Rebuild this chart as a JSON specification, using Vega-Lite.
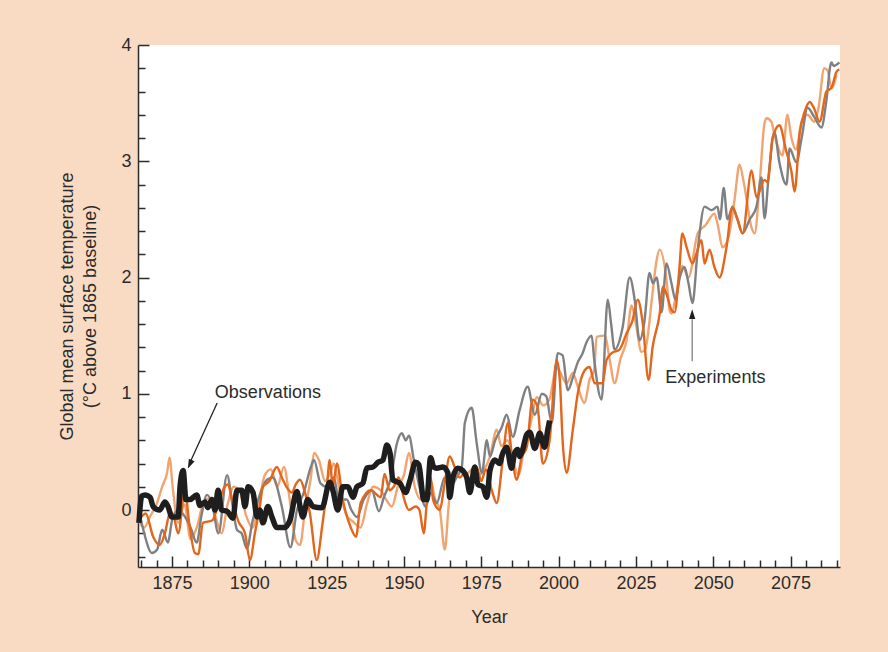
{
  "$schema": "https://vega.github.io/schema/vega-lite/v6.json",
  "width": 702,
  "height": 522,
  "autosize": {"type": "none"},
  "padding": {"left": 138, "top": 45, "right": 48, "bottom": 85},
  "background": "#F9DBC3",
  "config": {
    "view": {"fill": "white", "stroke": null},
    "font": "Liberation Sans",
    "axis": {
      "grid": false,
      "domainColor": "#2B2B2B",
      "domainWidth": 1.5,
      "tickColor": "#2B2B2B",
      "tickWidth": 1.5,
      "labelColor": "#2B2B2B",
      "labelFontSize": 18,
      "titleColor": "#2B2B2B",
      "titleFontSize": 18,
      "titleFontWeight": "normal"
    }
  },
  "datasets": {
    "obs": [
      {"year": 1864.3, "temp": -0.11}, {"year": 1865.2, "temp": 0.12}, {"year": 1866.3, "temp": 0.13}, {"year": 1867.9, "temp": 0.11},
      {"year": 1868.9, "temp": 0.03}, {"year": 1871, "temp": 0.0}, {"year": 1872.7, "temp": 0.07}, {"year": 1873.7, "temp": 0.03},
      {"year": 1875, "temp": -0.06}, {"year": 1877, "temp": -0.06}, {"year": 1877.6, "temp": 0.2}, {"year": 1878.6, "temp": 0.34},
      {"year": 1879.5, "temp": 0.09}, {"year": 1880.8, "temp": 0.09}, {"year": 1883, "temp": 0.13}, {"year": 1884, "temp": 0.04},
      {"year": 1885.7, "temp": 0.07}, {"year": 1886.6, "temp": 0.02}, {"year": 1887.9, "temp": 0.09}, {"year": 1888.9, "temp": 0.0},
      {"year": 1889.9, "temp": 0.17}, {"year": 1891, "temp": 0.0}, {"year": 1892.8, "temp": -0.01}, {"year": 1894.7, "temp": -0.07},
      {"year": 1896, "temp": 0.17}, {"year": 1897.6, "temp": 0.17}, {"year": 1898.6, "temp": 0.03}, {"year": 1899.6, "temp": 0.2},
      {"year": 1901.2, "temp": 0.15}, {"year": 1902.5, "temp": -0.06}, {"year": 1903.4, "temp": 0.0}, {"year": 1904.4, "temp": -0.11},
      {"year": 1906, "temp": 0.03}, {"year": 1907.3, "temp": -0.06}, {"year": 1908.9, "temp": -0.15}, {"year": 1911.5, "temp": -0.15},
      {"year": 1913.1, "temp": -0.09}, {"year": 1915.4, "temp": 0.16}, {"year": 1916.4, "temp": 0.03}, {"year": 1917.3, "temp": -0.06},
      {"year": 1918.9, "temp": 0.09}, {"year": 1920.6, "temp": 0.03}, {"year": 1923.5, "temp": 0.02}, {"year": 1926, "temp": 0.24},
      {"year": 1927, "temp": 0.17}, {"year": 1928.6, "temp": 0.0}, {"year": 1930.2, "temp": 0.2}, {"year": 1931.9, "temp": 0.2},
      {"year": 1933.5, "temp": 0.11}, {"year": 1934.8, "temp": 0.2}, {"year": 1936.7, "temp": 0.23}, {"year": 1938, "temp": 0.36},
      {"year": 1940, "temp": 0.37}, {"year": 1941.6, "temp": 0.41}, {"year": 1943.2, "temp": 0.43}, {"year": 1944.5, "temp": 0.56},
      {"year": 1945.5, "temp": 0.49}, {"year": 1946.4, "temp": 0.26}, {"year": 1948.7, "temp": 0.23}, {"year": 1950.5, "temp": 0.15},
      {"year": 1952, "temp": 0.26}, {"year": 1953.7, "temp": 0.41}, {"year": 1954.8, "temp": 0.39}, {"year": 1956.4, "temp": 0.09},
      {"year": 1957.4, "temp": 0.09}, {"year": 1958.6, "temp": 0.45}, {"year": 1959.6, "temp": 0.37}, {"year": 1960.6, "temp": 0.36},
      {"year": 1962.6, "temp": 0.37}, {"year": 1964.2, "temp": 0.32}, {"year": 1964.8, "temp": 0.11}, {"year": 1965.8, "temp": 0.28},
      {"year": 1967.4, "temp": 0.36}, {"year": 1969, "temp": 0.34}, {"year": 1970.3, "temp": 0.28}, {"year": 1971.3, "temp": 0.15},
      {"year": 1972.9, "temp": 0.37}, {"year": 1973.9, "temp": 0.22}, {"year": 1975.5, "temp": 0.2}, {"year": 1976.8, "temp": 0.11},
      {"year": 1977.8, "temp": 0.34}, {"year": 1979.4, "temp": 0.43}, {"year": 1981, "temp": 0.4}, {"year": 1981.6, "temp": 0.46},
      {"year": 1983.2, "temp": 0.54}, {"year": 1984.8, "temp": 0.36}, {"year": 1985.8, "temp": 0.49}, {"year": 1986.8, "temp": 0.52},
      {"year": 1987.4, "temp": 0.46}, {"year": 1988.4, "temp": 0.52}, {"year": 1989.7, "temp": 0.65}, {"year": 1990.7, "temp": 0.67},
      {"year": 1992.3, "temp": 0.53}, {"year": 1993.9, "temp": 0.66}, {"year": 1995.5, "temp": 0.54}, {"year": 1996.5, "temp": 0.69},
      {"year": 1997.1, "temp": 0.77}
    ],
    "exp": [
      {"series": "Experiment 1", "year": 1864.3, "temp": -0.1}, {"series": "Experiment 1", "year": 1866, "temp": -0.15},
      {"series": "Experiment 1", "year": 1868, "temp": -0.05}, {"series": "Experiment 1", "year": 1870, "temp": 0.05},
      {"series": "Experiment 1", "year": 1871.8, "temp": 0.2}, {"series": "Experiment 1", "year": 1873.4, "temp": 0.32},
      {"series": "Experiment 1", "year": 1874.2, "temp": 0.45}, {"series": "Experiment 1", "year": 1875.2, "temp": 0.2},
      {"series": "Experiment 1", "year": 1877, "temp": -0.11}, {"series": "Experiment 1", "year": 1879, "temp": 0.05},
      {"series": "Experiment 1", "year": 1881, "temp": -0.25}, {"series": "Experiment 1", "year": 1883, "temp": -0.15},
      {"series": "Experiment 1", "year": 1885, "temp": 0.05}, {"series": "Experiment 1", "year": 1887, "temp": 0.1},
      {"series": "Experiment 1", "year": 1889, "temp": -0.05}, {"series": "Experiment 1", "year": 1891, "temp": -0.2},
      {"series": "Experiment 1", "year": 1893, "temp": 0.05}, {"series": "Experiment 1", "year": 1895, "temp": 0.2},
      {"series": "Experiment 1", "year": 1897, "temp": 0.15}, {"series": "Experiment 1", "year": 1899, "temp": -0.05},
      {"series": "Experiment 1", "year": 1901, "temp": -0.15}, {"series": "Experiment 1", "year": 1903, "temp": 0.05},
      {"series": "Experiment 1", "year": 1905, "temp": 0.3}, {"series": "Experiment 1", "year": 1907, "temp": 0.35},
      {"series": "Experiment 1", "year": 1909, "temp": 0.2}, {"series": "Experiment 1", "year": 1911.2, "temp": 0.37},
      {"series": "Experiment 1", "year": 1913, "temp": 0.1}, {"series": "Experiment 1", "year": 1915, "temp": -0.26},
      {"series": "Experiment 1", "year": 1916.4, "temp": -0.3}, {"series": "Experiment 1", "year": 1918, "temp": 0.0},
      {"series": "Experiment 1", "year": 1919.9, "temp": 0.28}, {"series": "Experiment 1", "year": 1920.9, "temp": 0.49},
      {"series": "Experiment 1", "year": 1922.5, "temp": 0.43}, {"series": "Experiment 1", "year": 1924.5, "temp": 0.25},
      {"series": "Experiment 1", "year": 1926.4, "temp": 0.34}, {"series": "Experiment 1", "year": 1927.3, "temp": 0.4},
      {"series": "Experiment 1", "year": 1929, "temp": 0.2}, {"series": "Experiment 1", "year": 1931.5, "temp": -0.05},
      {"series": "Experiment 1", "year": 1933.5, "temp": -0.1}, {"series": "Experiment 1", "year": 1936, "temp": -0.15},
      {"series": "Experiment 1", "year": 1938, "temp": 0.05}, {"series": "Experiment 1", "year": 1940, "temp": 0.2},
      {"series": "Experiment 1", "year": 1942.5, "temp": 0.17}, {"series": "Experiment 1", "year": 1944, "temp": 0.1},
      {"series": "Experiment 1", "year": 1946.1, "temp": 0.03}, {"series": "Experiment 1", "year": 1948, "temp": 0.2},
      {"series": "Experiment 1", "year": 1950, "temp": 0.3}, {"series": "Experiment 1", "year": 1951.6, "temp": 0.49},
      {"series": "Experiment 1", "year": 1953.5, "temp": 0.2}, {"series": "Experiment 1", "year": 1955.5, "temp": 0.09},
      {"series": "Experiment 1", "year": 1957, "temp": 0.15}, {"series": "Experiment 1", "year": 1958.7, "temp": 0.25},
      {"series": "Experiment 1", "year": 1960, "temp": 0.1}, {"series": "Experiment 1", "year": 1961.6, "temp": 0.0},
      {"series": "Experiment 1", "year": 1963.2, "temp": -0.34}, {"series": "Experiment 1", "year": 1964.5, "temp": 0.05},
      {"series": "Experiment 1", "year": 1966, "temp": 0.3}, {"series": "Experiment 1", "year": 1968, "temp": 0.35},
      {"series": "Experiment 1", "year": 1970, "temp": 0.3}, {"series": "Experiment 1", "year": 1972, "temp": 0.35},
      {"series": "Experiment 1", "year": 1974, "temp": 0.3}, {"series": "Experiment 1", "year": 1976, "temp": 0.35},
      {"series": "Experiment 1", "year": 1977.8, "temp": 0.46}, {"series": "Experiment 1", "year": 1980, "temp": 0.69},
      {"series": "Experiment 1", "year": 1981.5, "temp": 0.55}, {"series": "Experiment 1", "year": 1983.5, "temp": 0.6},
      {"series": "Experiment 1", "year": 1985.5, "temp": 0.4}, {"series": "Experiment 1", "year": 1987, "temp": 0.3},
      {"series": "Experiment 1", "year": 1989, "temp": 0.55}, {"series": "Experiment 1", "year": 1991, "temp": 0.75},
      {"series": "Experiment 1", "year": 1993, "temp": 0.97}, {"series": "Experiment 1", "year": 1995, "temp": 0.9},
      {"series": "Experiment 1", "year": 1997, "temp": 0.95}, {"series": "Experiment 1", "year": 1999.4, "temp": 1.23},
      {"series": "Experiment 1", "year": 2000.4, "temp": 1.19}, {"series": "Experiment 1", "year": 2002.6, "temp": 1.09},
      {"series": "Experiment 1", "year": 2004.6, "temp": 1.18}, {"series": "Experiment 1", "year": 2006, "temp": 1.08},
      {"series": "Experiment 1", "year": 2008.4, "temp": 0.92}, {"series": "Experiment 1", "year": 2010, "temp": 1.12},
      {"series": "Experiment 1", "year": 2011.5, "temp": 1.2}, {"series": "Experiment 1", "year": 2012.3, "temp": 1.49},
      {"series": "Experiment 1", "year": 2014.9, "temp": 1.5}, {"series": "Experiment 1", "year": 2016.5, "temp": 1.3},
      {"series": "Experiment 1", "year": 2018.1, "temp": 1.09}, {"series": "Experiment 1", "year": 2020, "temp": 1.3},
      {"series": "Experiment 1", "year": 2022, "temp": 1.46}, {"series": "Experiment 1", "year": 2023.6, "temp": 1.76},
      {"series": "Experiment 1", "year": 2025, "temp": 1.6}, {"series": "Experiment 1", "year": 2026.8, "temp": 1.36},
      {"series": "Experiment 1", "year": 2028, "temp": 1.38}, {"series": "Experiment 1", "year": 2030.4, "temp": 1.87},
      {"series": "Experiment 1", "year": 2031.7, "temp": 2.15}, {"series": "Experiment 1", "year": 2032.7, "temp": 2.24},
      {"series": "Experiment 1", "year": 2034.9, "temp": 1.98}, {"series": "Experiment 1", "year": 2035.9, "temp": 1.72},
      {"series": "Experiment 1", "year": 2036.5, "temp": 1.69}, {"series": "Experiment 1", "year": 2038, "temp": 1.85},
      {"series": "Experiment 1", "year": 2040, "temp": 2.1}, {"series": "Experiment 1", "year": 2042, "temp": 2.0},
      {"series": "Experiment 1", "year": 2045, "temp": 2.38}, {"series": "Experiment 1", "year": 2047.5, "temp": 2.45},
      {"series": "Experiment 1", "year": 2050.4, "temp": 2.55}, {"series": "Experiment 1", "year": 2051.5, "temp": 2.45},
      {"series": "Experiment 1", "year": 2053, "temp": 2.26}, {"series": "Experiment 1", "year": 2055, "temp": 2.35},
      {"series": "Experiment 1", "year": 2056.9, "temp": 2.67}, {"series": "Experiment 1", "year": 2058.5, "temp": 2.97},
      {"series": "Experiment 1", "year": 2060, "temp": 2.8}, {"series": "Experiment 1", "year": 2062.4, "temp": 2.43},
      {"series": "Experiment 1", "year": 2063.4, "temp": 2.38}, {"series": "Experiment 1", "year": 2065, "temp": 2.8},
      {"series": "Experiment 1", "year": 2066.6, "temp": 3.33}, {"series": "Experiment 1", "year": 2067.3, "temp": 3.37},
      {"series": "Experiment 1", "year": 2068.8, "temp": 3.34}, {"series": "Experiment 1", "year": 2069.8, "temp": 3.23},
      {"series": "Experiment 1", "year": 2072.4, "temp": 3.05}, {"series": "Experiment 1", "year": 2074, "temp": 3.4},
      {"series": "Experiment 1", "year": 2075.3, "temp": 3.2}, {"series": "Experiment 1", "year": 2076.8, "temp": 3.1},
      {"series": "Experiment 1", "year": 2078.6, "temp": 3.34}, {"series": "Experiment 1", "year": 2080.5, "temp": 3.4},
      {"series": "Experiment 1", "year": 2082.7, "temp": 3.34}, {"series": "Experiment 1", "year": 2084, "temp": 3.45},
      {"series": "Experiment 1", "year": 2085.9, "temp": 3.8}, {"series": "Experiment 1", "year": 2087, "temp": 3.78},
      {"series": "Experiment 1", "year": 2088.2, "temp": 3.63}, {"series": "Experiment 1", "year": 2089.9, "temp": 3.74},

      {"series": "Experiment 2", "year": 1864.5, "temp": -0.03}, {"series": "Experiment 2", "year": 1866, "temp": -0.2},
      {"series": "Experiment 2", "year": 1868.5, "temp": -0.37}, {"series": "Experiment 2", "year": 1870.2, "temp": -0.34},
      {"series": "Experiment 2", "year": 1871.8, "temp": -0.17}, {"series": "Experiment 2", "year": 1873.7, "temp": -0.28},
      {"series": "Experiment 2", "year": 1875, "temp": -0.09}, {"series": "Experiment 2", "year": 1877, "temp": 0.0},
      {"series": "Experiment 2", "year": 1879, "temp": -0.05}, {"series": "Experiment 2", "year": 1881, "temp": -0.15},
      {"series": "Experiment 2", "year": 1883, "temp": -0.28}, {"series": "Experiment 2", "year": 1884.5, "temp": -0.05},
      {"series": "Experiment 2", "year": 1886.3, "temp": 0.13}, {"series": "Experiment 2", "year": 1888, "temp": 0.05},
      {"series": "Experiment 2", "year": 1890, "temp": -0.2}, {"series": "Experiment 2", "year": 1892.8, "temp": 0.3},
      {"series": "Experiment 2", "year": 1894.5, "temp": 0.05}, {"series": "Experiment 2", "year": 1896, "temp": -0.17},
      {"series": "Experiment 2", "year": 1897.5, "temp": -0.2}, {"series": "Experiment 2", "year": 1899.2, "temp": -0.33},
      {"series": "Experiment 2", "year": 1901, "temp": -0.1}, {"series": "Experiment 2", "year": 1903, "temp": 0.1},
      {"series": "Experiment 2", "year": 1905.7, "temp": 0.26}, {"series": "Experiment 2", "year": 1907.6, "temp": 0.28},
      {"series": "Experiment 2", "year": 1910.5, "temp": 0.03}, {"series": "Experiment 2", "year": 1913.3, "temp": -0.32},
      {"series": "Experiment 2", "year": 1915.4, "temp": 0.0}, {"series": "Experiment 2", "year": 1917.6, "temp": 0.15},
      {"series": "Experiment 2", "year": 1919.9, "temp": 0.37}, {"series": "Experiment 2", "year": 1920.9, "temp": 0.43},
      {"series": "Experiment 2", "year": 1923, "temp": 0.23}, {"series": "Experiment 2", "year": 1925, "temp": 0.2},
      {"series": "Experiment 2", "year": 1927.3, "temp": 0.28}, {"series": "Experiment 2", "year": 1929, "temp": 0.09},
      {"series": "Experiment 2", "year": 1931.5, "temp": 0.09}, {"series": "Experiment 2", "year": 1933, "temp": 0.0},
      {"series": "Experiment 2", "year": 1934.8, "temp": -0.06}, {"series": "Experiment 2", "year": 1937, "temp": 0.09},
      {"series": "Experiment 2", "year": 1939.6, "temp": 0.17}, {"series": "Experiment 2", "year": 1941.9, "temp": -0.01},
      {"series": "Experiment 2", "year": 1943.5, "temp": 0.11}, {"series": "Experiment 2", "year": 1945.8, "temp": 0.28},
      {"series": "Experiment 2", "year": 1947.7, "temp": 0.57}, {"series": "Experiment 2", "year": 1949.3, "temp": 0.66},
      {"series": "Experiment 2", "year": 1950.6, "temp": 0.6}, {"series": "Experiment 2", "year": 1951.6, "temp": 0.64},
      {"series": "Experiment 2", "year": 1953.2, "temp": 0.43}, {"series": "Experiment 2", "year": 1955, "temp": 0.2},
      {"series": "Experiment 2", "year": 1957, "temp": 0.03}, {"series": "Experiment 2", "year": 1958.7, "temp": 0.15},
      {"series": "Experiment 2", "year": 1960.6, "temp": 0.06}, {"series": "Experiment 2", "year": 1963.2, "temp": 0.28},
      {"series": "Experiment 2", "year": 1965, "temp": 0.2}, {"series": "Experiment 2", "year": 1967, "temp": 0.28},
      {"series": "Experiment 2", "year": 1968.7, "temp": 0.37}, {"series": "Experiment 2", "year": 1969.7, "temp": 0.75},
      {"series": "Experiment 2", "year": 1971.9, "temp": 0.88}, {"series": "Experiment 2", "year": 1973.5, "temp": 0.58},
      {"series": "Experiment 2", "year": 1975.2, "temp": 0.32}, {"series": "Experiment 2", "year": 1976.8, "temp": 0.6},
      {"series": "Experiment 2", "year": 1977.8, "temp": 0.46}, {"series": "Experiment 2", "year": 1979.5, "temp": 0.6},
      {"series": "Experiment 2", "year": 1981.6, "temp": 0.71}, {"series": "Experiment 2", "year": 1983.2, "temp": 0.82},
      {"series": "Experiment 2", "year": 1985.2, "temp": 0.63}, {"series": "Experiment 2", "year": 1987.4, "temp": 0.86},
      {"series": "Experiment 2", "year": 1990, "temp": 1.06}, {"series": "Experiment 2", "year": 1992.3, "temp": 0.82},
      {"series": "Experiment 2", "year": 1994.6, "temp": 1.0}, {"series": "Experiment 2", "year": 1996, "temp": 0.98},
      {"series": "Experiment 2", "year": 1997.8, "temp": 0.75}, {"series": "Experiment 2", "year": 1999.7, "temp": 1.35},
      {"series": "Experiment 2", "year": 2001.3, "temp": 1.33}, {"series": "Experiment 2", "year": 2003, "temp": 1.03},
      {"series": "Experiment 2", "year": 2004.6, "temp": 1.14}, {"series": "Experiment 2", "year": 2006.2, "temp": 1.27},
      {"series": "Experiment 2", "year": 2007.8, "temp": 1.35}, {"series": "Experiment 2", "year": 2009, "temp": 1.44},
      {"series": "Experiment 2", "year": 2010.7, "temp": 1.5}, {"series": "Experiment 2", "year": 2011.5, "temp": 1.3},
      {"series": "Experiment 2", "year": 2013.9, "temp": 0.95}, {"series": "Experiment 2", "year": 2015.9, "temp": 1.81},
      {"series": "Experiment 2", "year": 2017, "temp": 1.6}, {"series": "Experiment 2", "year": 2018.1, "temp": 1.38},
      {"series": "Experiment 2", "year": 2020.7, "temp": 1.57}, {"series": "Experiment 2", "year": 2023, "temp": 2.0},
      {"series": "Experiment 2", "year": 2024.6, "temp": 1.81}, {"series": "Experiment 2", "year": 2026.2, "temp": 1.46},
      {"series": "Experiment 2", "year": 2027.8, "temp": 1.63}, {"series": "Experiment 2", "year": 2029.4, "temp": 2.04},
      {"series": "Experiment 2", "year": 2030.5, "temp": 1.95}, {"series": "Experiment 2", "year": 2031.7, "temp": 2.0},
      {"series": "Experiment 2", "year": 2033.3, "temp": 1.7}, {"series": "Experiment 2", "year": 2034.9, "temp": 2.12},
      {"series": "Experiment 2", "year": 2036.5, "temp": 1.95}, {"series": "Experiment 2", "year": 2037.8, "temp": 1.81},
      {"series": "Experiment 2", "year": 2039.2, "temp": 2.0}, {"series": "Experiment 2", "year": 2040.7, "temp": 2.09},
      {"series": "Experiment 2", "year": 2042, "temp": 1.95}, {"series": "Experiment 2", "year": 2043.3, "temp": 1.78},
      {"series": "Experiment 2", "year": 2045, "temp": 2.24}, {"series": "Experiment 2", "year": 2047.2, "temp": 2.61},
      {"series": "Experiment 2", "year": 2049.5, "temp": 2.58}, {"series": "Experiment 2", "year": 2051.4, "temp": 2.61},
      {"series": "Experiment 2", "year": 2052.2, "temp": 2.5}, {"series": "Experiment 2", "year": 2053.4, "temp": 2.77},
      {"series": "Experiment 2", "year": 2054.6, "temp": 2.5}, {"series": "Experiment 2", "year": 2056.2, "temp": 2.6},
      {"series": "Experiment 2", "year": 2057.9, "temp": 2.5}, {"series": "Experiment 2", "year": 2059.5, "temp": 2.38},
      {"series": "Experiment 2", "year": 2061.8, "temp": 2.5}, {"series": "Experiment 2", "year": 2064, "temp": 2.61},
      {"series": "Experiment 2", "year": 2065.6, "temp": 2.86}, {"series": "Experiment 2", "year": 2066.6, "temp": 2.51},
      {"series": "Experiment 2", "year": 2068, "temp": 2.9}, {"series": "Experiment 2", "year": 2069.8, "temp": 3.25},
      {"series": "Experiment 2", "year": 2071.4, "temp": 2.99}, {"series": "Experiment 2", "year": 2073.7, "temp": 2.8},
      {"series": "Experiment 2", "year": 2074.7, "temp": 3.11}, {"series": "Experiment 2", "year": 2076.9, "temp": 2.99},
      {"series": "Experiment 2", "year": 2078.6, "temp": 3.2}, {"series": "Experiment 2", "year": 2080.5, "temp": 3.46},
      {"series": "Experiment 2", "year": 2082.7, "temp": 3.38}, {"series": "Experiment 2", "year": 2085, "temp": 3.29},
      {"series": "Experiment 2", "year": 2086.5, "temp": 3.5}, {"series": "Experiment 2", "year": 2088.2, "temp": 3.85},
      {"series": "Experiment 2", "year": 2089, "temp": 3.82}, {"series": "Experiment 2", "year": 2090.8, "temp": 3.85},

      {"series": "Experiment 3", "year": 1864.3, "temp": -0.09}, {"series": "Experiment 3", "year": 1866.5, "temp": -0.03},
      {"series": "Experiment 3", "year": 1868.9, "temp": -0.23}, {"series": "Experiment 3", "year": 1871, "temp": -0.3},
      {"series": "Experiment 3", "year": 1872.7, "temp": -0.2}, {"series": "Experiment 3", "year": 1874.4, "temp": -0.02},
      {"series": "Experiment 3", "year": 1875.5, "temp": -0.05}, {"series": "Experiment 3", "year": 1877, "temp": -0.2},
      {"series": "Experiment 3", "year": 1879.2, "temp": 0.17}, {"series": "Experiment 3", "year": 1880.5, "temp": -0.1},
      {"series": "Experiment 3", "year": 1882.4, "temp": -0.37}, {"series": "Experiment 3", "year": 1883.5, "temp": -0.38},
      {"series": "Experiment 3", "year": 1885, "temp": -0.11}, {"series": "Experiment 3", "year": 1888, "temp": -0.09},
      {"series": "Experiment 3", "year": 1890, "temp": 0.05}, {"series": "Experiment 3", "year": 1892, "temp": 0.2},
      {"series": "Experiment 3", "year": 1893, "temp": 0.22}, {"series": "Experiment 3", "year": 1894.7, "temp": 0.06},
      {"series": "Experiment 3", "year": 1896.5, "temp": -0.1}, {"series": "Experiment 3", "year": 1898.6, "temp": -0.2},
      {"series": "Experiment 3", "year": 1900.2, "temp": -0.43}, {"series": "Experiment 3", "year": 1901.8, "temp": -0.2},
      {"series": "Experiment 3", "year": 1903.4, "temp": 0.03}, {"series": "Experiment 3", "year": 1904.4, "temp": 0.2},
      {"series": "Experiment 3", "year": 1906.5, "temp": 0.25}, {"series": "Experiment 3", "year": 1908.9, "temp": 0.37},
      {"series": "Experiment 3", "year": 1910.5, "temp": 0.28}, {"series": "Experiment 3", "year": 1912, "temp": 0.2},
      {"series": "Experiment 3", "year": 1913.8, "temp": 0.15}, {"series": "Experiment 3", "year": 1915, "temp": 0.22},
      {"series": "Experiment 3", "year": 1916.4, "temp": 0.26}, {"series": "Experiment 3", "year": 1918, "temp": 0.15},
      {"series": "Experiment 3", "year": 1919.6, "temp": -0.03}, {"series": "Experiment 3", "year": 1921.8, "temp": -0.43},
      {"series": "Experiment 3", "year": 1923.5, "temp": -0.15}, {"series": "Experiment 3", "year": 1925, "temp": 0.17},
      {"series": "Experiment 3", "year": 1926, "temp": 0.43}, {"series": "Experiment 3", "year": 1927, "temp": 0.2},
      {"series": "Experiment 3", "year": 1928.3, "temp": 0.4}, {"series": "Experiment 3", "year": 1930.2, "temp": 0.09},
      {"series": "Experiment 3", "year": 1932.8, "temp": -0.15}, {"series": "Experiment 3", "year": 1934.5, "temp": -0.23},
      {"series": "Experiment 3", "year": 1936, "temp": 0.06}, {"series": "Experiment 3", "year": 1939.3, "temp": 0.17},
      {"series": "Experiment 3", "year": 1942.5, "temp": 0.11}, {"series": "Experiment 3", "year": 1943.7, "temp": 0.31},
      {"series": "Experiment 3", "year": 1945.4, "temp": 0.17}, {"series": "Experiment 3", "year": 1946.7, "temp": 0.2},
      {"series": "Experiment 3", "year": 1948.3, "temp": 0.28}, {"series": "Experiment 3", "year": 1950, "temp": 0.1},
      {"series": "Experiment 3", "year": 1951.6, "temp": 0.0}, {"series": "Experiment 3", "year": 1953.8, "temp": 0.03},
      {"series": "Experiment 3", "year": 1955, "temp": 0.0}, {"series": "Experiment 3", "year": 1956.4, "temp": -0.2},
      {"series": "Experiment 3", "year": 1957.5, "temp": 0.1}, {"series": "Experiment 3", "year": 1958.7, "temp": 0.28},
      {"series": "Experiment 3", "year": 1959.4, "temp": 0.09}, {"series": "Experiment 3", "year": 1961.6, "temp": 0.0},
      {"series": "Experiment 3", "year": 1963, "temp": 0.2}, {"series": "Experiment 3", "year": 1964.8, "temp": 0.46},
      {"series": "Experiment 3", "year": 1966.4, "temp": 0.37}, {"series": "Experiment 3", "year": 1968, "temp": 0.28},
      {"series": "Experiment 3", "year": 1969.7, "temp": 0.32}, {"series": "Experiment 3", "year": 1971.5, "temp": 0.2},
      {"series": "Experiment 3", "year": 1973.5, "temp": 0.37}, {"series": "Experiment 3", "year": 1975, "temp": 0.25},
      {"series": "Experiment 3", "year": 1976.5, "temp": 0.35}, {"series": "Experiment 3", "year": 1978.4, "temp": 0.17},
      {"series": "Experiment 3", "year": 1980, "temp": 0.06}, {"series": "Experiment 3", "year": 1981.8, "temp": 0.4},
      {"series": "Experiment 3", "year": 1983.6, "temp": 0.75}, {"series": "Experiment 3", "year": 1984.8, "temp": 0.49},
      {"series": "Experiment 3", "year": 1986.5, "temp": 0.26}, {"series": "Experiment 3", "year": 1988, "temp": 0.45},
      {"series": "Experiment 3", "year": 1989.7, "temp": 0.54}, {"series": "Experiment 3", "year": 1991.6, "temp": 0.95},
      {"series": "Experiment 3", "year": 1993.2, "temp": 0.89}, {"series": "Experiment 3", "year": 1994.9, "temp": 0.4},
      {"series": "Experiment 3", "year": 1997.1, "temp": 0.6}, {"series": "Experiment 3", "year": 1999.4, "temp": 1.29},
      {"series": "Experiment 3", "year": 2000.4, "temp": 1.12}, {"series": "Experiment 3", "year": 2001.3, "temp": 0.6},
      {"series": "Experiment 3", "year": 2002.6, "temp": 0.32}, {"series": "Experiment 3", "year": 2004.6, "temp": 0.69},
      {"series": "Experiment 3", "year": 2006.2, "temp": 1.0}, {"series": "Experiment 3", "year": 2008.4, "temp": 1.2},
      {"series": "Experiment 3", "year": 2010, "temp": 1.23}, {"series": "Experiment 3", "year": 2011.7, "temp": 1.09},
      {"series": "Experiment 3", "year": 2014.2, "temp": 1.09}, {"series": "Experiment 3", "year": 2015.5, "temp": 1.29},
      {"series": "Experiment 3", "year": 2017.2, "temp": 1.35}, {"series": "Experiment 3", "year": 2019.7, "temp": 1.38},
      {"series": "Experiment 3", "year": 2022, "temp": 1.52}, {"series": "Experiment 3", "year": 2023.9, "temp": 1.63},
      {"series": "Experiment 3", "year": 2025.6, "temp": 1.81}, {"series": "Experiment 3", "year": 2027.2, "temp": 1.61},
      {"series": "Experiment 3", "year": 2029.1, "temp": 1.12}, {"series": "Experiment 3", "year": 2030.4, "temp": 1.4},
      {"series": "Experiment 3", "year": 2032.7, "temp": 1.69}, {"series": "Experiment 3", "year": 2033.7, "temp": 1.92},
      {"series": "Experiment 3", "year": 2035, "temp": 1.85}, {"series": "Experiment 3", "year": 2036.5, "temp": 1.72},
      {"series": "Experiment 3", "year": 2037.5, "temp": 1.7}, {"series": "Experiment 3", "year": 2039.1, "temp": 2.09},
      {"series": "Experiment 3", "year": 2040, "temp": 2.38}, {"series": "Experiment 3", "year": 2041.5, "temp": 2.25},
      {"series": "Experiment 3", "year": 2043.3, "temp": 2.12}, {"series": "Experiment 3", "year": 2044.5, "temp": 2.2},
      {"series": "Experiment 3", "year": 2046.2, "temp": 2.32}, {"series": "Experiment 3", "year": 2047.2, "temp": 2.12},
      {"series": "Experiment 3", "year": 2048.8, "temp": 2.24}, {"series": "Experiment 3", "year": 2050.4, "temp": 2.09},
      {"series": "Experiment 3", "year": 2052, "temp": 2.0}, {"series": "Experiment 3", "year": 2054.3, "temp": 2.26},
      {"series": "Experiment 3", "year": 2056.2, "temp": 2.61}, {"series": "Experiment 3", "year": 2057.8, "temp": 2.5},
      {"series": "Experiment 3", "year": 2059.5, "temp": 2.38}, {"series": "Experiment 3", "year": 2062.4, "temp": 2.92},
      {"series": "Experiment 3", "year": 2064, "temp": 2.69}, {"series": "Experiment 3", "year": 2066.6, "temp": 2.84},
      {"series": "Experiment 3", "year": 2067.6, "temp": 2.82}, {"series": "Experiment 3", "year": 2069.2, "temp": 3.2},
      {"series": "Experiment 3", "year": 2071.4, "temp": 3.31}, {"series": "Experiment 3", "year": 2073.5, "temp": 3.1},
      {"series": "Experiment 3", "year": 2075.3, "temp": 2.91}, {"series": "Experiment 3", "year": 2076.3, "temp": 2.74},
      {"series": "Experiment 3", "year": 2078, "temp": 3.25}, {"series": "Experiment 3", "year": 2079.5, "temp": 3.42},
      {"series": "Experiment 3", "year": 2081.2, "temp": 3.51}, {"series": "Experiment 3", "year": 2082.7, "temp": 3.45},
      {"series": "Experiment 3", "year": 2084.4, "temp": 3.34}, {"series": "Experiment 3", "year": 2086.6, "temp": 3.6},
      {"series": "Experiment 3", "year": 2088.2, "temp": 3.63}, {"series": "Experiment 3", "year": 2089.9, "temp": 3.77},
      {"series": "Experiment 3", "year": 2090.8, "temp": 3.79}
    ],
    "arrows": [
      {"label": "Observations", "x1": 1889.6, "y1": 0.92, "x2": 1881.0, "y2": 0.42, "tx": 1880.1, "ty": 0.355, "angle": 204, "color": "#222222"},
      {"label": "Experiments", "x1": 2043.2, "y1": 1.28, "x2": 2043.2, "y2": 1.64, "tx": 2043.2, "ty": 1.726, "angle": 0, "color": "#808080"}
    ],
    "labels": [
      {"text": "Observations", "year": 1906.0, "temp": 1.01},
      {"text": "Experiments", "year": 2050.7, "temp": 1.135}
    ]
  },
  "resolve": {"axis": {"x": "independent", "y": "independent"}},
  "layer": [
    {
      "data": {"name": "exp"},
      "mark": {"type": "point", "opacity": 0},
      "encoding": {
        "x": {
          "field": "year", "type": "quantitative",
          "scale": {"domain": [1864, 2091], "nice": false, "zero": false},
          "axis": {"orient": "bottom", "values": [1865, 1870, 1880, 1885, 1890, 1895, 1905, 1910, 1915, 1920, 1930, 1935, 1940, 1945, 1955, 1960, 1965, 1970, 1980, 1985, 1990, 1995, 2005, 2010, 2015, 2020, 2030, 2035, 2040, 2045, 2055, 2060, 2065, 2070, 2080, 2085, 2090], "labels": false, "domain": false, "tickSize": -7, "title": null}
        },
        "y": {
          "field": "temp", "type": "quantitative",
          "scale": {"domain": [-0.49, 4], "nice": false, "zero": false},
          "axis": {"orient": "left", "values": [0.2, 0.4, 0.6, 0.8, 1.2, 1.4, 1.6, 1.8, 2.2, 2.4, 2.6, 2.8, 3.2, 3.4, 3.6, 3.8, -0.2, -0.4], "labels": false, "domain": false, "tickSize": -7, "title": null}
        }
      }
    },
    {
      "data": {"name": "exp"},
      "mark": {"type": "line", "interpolate": "monotone", "strokeWidth": 2.4, "strokeJoin": "round"},
      "encoding": {
        "x": {
          "field": "year", "type": "quantitative",
          "axis": {"orient": "bottom", "values": [1875, 1900, 1925, 1950, 1975, 2000, 2025, 2050, 2075], "format": "d", "tickSize": -11, "labelPadding": 18, "title": "Year", "titlePadding": 16}
        },
        "y": {
          "field": "temp", "type": "quantitative",
          "axis": {"orient": "left", "values": [0, 1, 2, 3, 4], "format": "d", "tickSize": -11, "labelPadding": 18, "title": ["Global mean surface temperature", "(°C above 1865 baseline)"], "titleLineHeight": 23, "titlePadding": 21}
        },
        "color": {
          "field": "series", "type": "nominal",
          "scale": {"domain": ["Experiment 1", "Experiment 2", "Experiment 3"], "range": ["#F2A470", "#7F8082", "#E2661C"]},
          "legend": null
        }
      }
    },
    {
      "data": {"name": "obs"},
      "mark": {"type": "line", "interpolate": "monotone", "strokeWidth": 5.5, "color": "#1E1E1E", "strokeJoin": "round"},
      "encoding": {
        "x": {"field": "year", "type": "quantitative", "axis": null},
        "y": {"field": "temp", "type": "quantitative", "axis": null}
      }
    },
    {
      "data": {"name": "arrows"},
      "mark": {"type": "rule", "strokeWidth": 1.3},
      "encoding": {
        "x": {"field": "x1", "type": "quantitative", "axis": null},
        "y": {"field": "y1", "type": "quantitative", "axis": null},
        "x2": {"field": "x2"},
        "y2": {"field": "y2"},
        "color": {"field": "color", "type": "nominal", "scale": null}
      }
    },
    {
      "data": {"name": "arrows"},
      "mark": {"type": "point", "shape": "M0,0L-0.55,1.7L0.55,1.7Z", "filled": true, "size": 130, "color": "#1E1E1E", "opacity": 1},
      "encoding": {
        "x": {"field": "tx", "type": "quantitative", "axis": null},
        "y": {"field": "ty", "type": "quantitative", "axis": null},
        "angle": {"field": "angle", "type": "quantitative", "scale": null}
      }
    },
    {
      "data": {"name": "labels"},
      "mark": {"type": "text", "fontSize": 18, "color": "#2B2B2B", "align": "center", "baseline": "middle"},
      "encoding": {
        "x": {"field": "year", "type": "quantitative", "axis": null},
        "y": {"field": "temp", "type": "quantitative", "axis": null},
        "text": {"field": "text"}
      }
    }
  ]
}
